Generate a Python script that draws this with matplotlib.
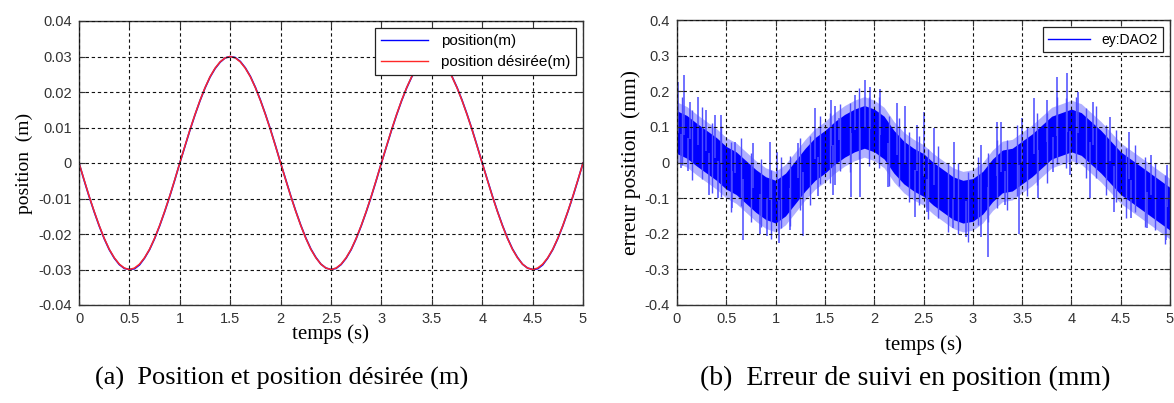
import numpy as np
import matplotlib
matplotlib.use("Agg")
import matplotlib.pyplot as plt

# ---- data ----
# (a) position and desired position (m), sampled every 0.05 s
t_pos = np.round(np.arange(0, 5.001, 0.05), 2)
pos_desired = [
    0.0, -0.0047, -0.0093, -0.0136, -0.0176, -0.0212, -0.0243, -0.0267, -0.0285, -0.0296,
    -0.0300, -0.0296, -0.0285, -0.0267, -0.0243, -0.0212, -0.0176, -0.0136, -0.0093, -0.0047,
    0.0, 0.0047, 0.0093, 0.0136, 0.0176, 0.0212, 0.0243, 0.0267, 0.0285, 0.0296,
    0.0300, 0.0296, 0.0285, 0.0267, 0.0243, 0.0212, 0.0176, 0.0136, 0.0093, 0.0047,
    0.0, -0.0047, -0.0093, -0.0136, -0.0176, -0.0212, -0.0243, -0.0267, -0.0285, -0.0296,
    -0.0300, -0.0296, -0.0285, -0.0267, -0.0243, -0.0212, -0.0176, -0.0136, -0.0093, -0.0047,
    0.0, 0.0047, 0.0093, 0.0136, 0.0176, 0.0212, 0.0243, 0.0267, 0.0285, 0.0296,
    0.0300, 0.0296, 0.0285, 0.0267, 0.0243, 0.0212, 0.0176, 0.0136, 0.0093, 0.0047,
    0.0, -0.0047, -0.0093, -0.0136, -0.0176, -0.0212, -0.0243, -0.0267, -0.0285, -0.0296,
    -0.0300, -0.0296, -0.0285, -0.0267, -0.0243, -0.0212, -0.0176, -0.0136, -0.0093, -0.0047,
    0.0]
pos_real = [
    0.0, -0.0048, -0.0094, -0.0137, -0.0177, -0.0213, -0.0244, -0.0268, -0.0286, -0.0297,
    -0.0300, -0.0298, -0.0287, -0.0268, -0.0244, -0.0213, -0.0177, -0.0137, -0.0094, -0.0048,
    0.0, 0.0046, 0.0092, 0.0135, 0.0175, 0.0211, 0.0242, 0.0266, 0.0284, 0.0296,
    0.0300, 0.0297, 0.0286, 0.0268, 0.0244, 0.0213, 0.0177, 0.0137, 0.0094, 0.0048,
    0.0, -0.0046, -0.0092, -0.0135, -0.0175, -0.0211, -0.0242, -0.0266, -0.0285, -0.0296,
    -0.0300, -0.0297, -0.0286, -0.0268, -0.0244, -0.0213, -0.0177, -0.0137, -0.0094, -0.0048,
    0.0, 0.0046, 0.0092, 0.0135, 0.0175, 0.0211, 0.0242, 0.0266, 0.0284, 0.0296,
    0.0300, 0.0297, 0.0286, 0.0268, 0.0244, 0.0213, 0.0177, 0.0137, 0.0094, 0.0048,
    0.0, -0.0046, -0.0092, -0.0135, -0.0175, -0.0211, -0.0242, -0.0266, -0.0285, -0.0296,
    -0.0300, -0.0298, -0.0287, -0.0268, -0.0244, -0.0213, -0.0177, -0.0137, -0.0094, -0.0048,
    0.0]

# (b) tracking error (mm): trend of the dense band every 0.1 s
t_err = np.round(np.arange(0, 5.001, 0.1), 1)
err_center = [0.085, 0.072, 0.05, 0.03, 0.01, -0.015, -0.03, -0.055, -0.08, -0.10,
              -0.11, -0.09, -0.055, -0.02, 0.01, 0.03, 0.055, 0.075, 0.09, 0.10,
              0.09, 0.07, 0.03, 0.0, -0.02, -0.035, -0.06, -0.08, -0.10, -0.11,
              -0.105, -0.085, -0.05, -0.025, -0.02, 0.0, 0.02, 0.045, 0.07, 0.08,
              0.09, 0.08, 0.055, 0.03, 0.0, -0.03, -0.05, -0.07, -0.09, -0.11,
              -0.13]
band_half = 0.06
fuzz_half = 0.085

# lines crossing the band (ragged edges)
mid_t = [0.05, 0.15, 0.25, 0.35, 0.45, 0.55, 0.65, 0.75, 0.85, 0.95,
         1.05, 1.15, 1.25, 1.35, 1.45, 1.55, 1.65, 1.75, 1.85, 1.95,
         2.05, 2.15, 2.25, 2.35, 2.45, 2.55, 2.65, 2.75, 2.85, 2.95,
         3.05, 3.15, 3.25, 3.35, 3.45, 3.55, 3.65, 3.75, 3.85, 3.95,
         4.05, 4.15, 4.25, 4.35, 4.45, 4.55, 4.65, 4.75, 4.85, 4.95]
mid_top = [0.183, 0.148, 0.155, 0.11, 0.103, 0.058, 0.068, 0.028, 0.01, -0.02,
           0.015, 0.018, 0.068, 0.075, 0.13, 0.138, 0.165, 0.168, 0.21, 0.185,
           0.185, 0.13, 0.125, 0.085, 0.073, 0.038, 0.045, 0.0, 0.0, -0.028,
           0.015, 0.028, 0.063, 0.063, 0.105, 0.10, 0.138, 0.138, 0.185, 0.18,
           0.185, 0.153, 0.158, 0.105, 0.09, 0.04, 0.05, 0.015, 0.0, -0.035]
mid_bot = [-0.008, -0.048, -0.045, -0.085, -0.098, -0.138, -0.123, -0.168, -0.18, -0.215,
           -0.185, -0.178, -0.133, -0.12, -0.06, -0.058, -0.025, -0.028, 0.01, -0.01,
           -0.015, -0.065, -0.065, -0.11, -0.118, -0.158, -0.155, -0.195, -0.20, -0.223,
           -0.175, -0.168, -0.128, -0.133, -0.095, -0.095, -0.063, -0.058, -0.005, -0.015,
           -0.005, -0.043, -0.043, -0.09, -0.11, -0.155, -0.14, -0.18, -0.19, -0.23]

# isolated peaks sticking out of the band
up_t = [0.01, 0.07, 0.13, 0.21, 0.29, 0.39, 0.45, 0.59, 0.77, 0.94, 1.01, 1.23, 1.40, 1.56, 1.60,
        1.64, 1.81, 1.91, 1.96, 2.06, 2.23, 2.31, 2.43, 2.51, 2.61, 2.81, 3.08, 3.25,
        3.29, 3.50, 3.62, 3.75, 3.85, 3.96, 4.07, 4.22, 4.39, 4.58, 4.81, 4.97]
up_v = [0.227, 0.245, 0.17, 0.185, 0.147, 0.133, 0.133, 0.058, 0.055, 0.058, 0.03, 0.055, 0.152, 0.175, 0.16,
        0.125, 0.19, 0.232, 0.213, 0.205, 0.166, 0.16, 0.105, 0.143, 0.097, 0.058, 0.05, 0.115,
        0.115, 0.124, 0.18, 0.175, 0.24, 0.25, 0.199, 0.17, 0.129, 0.086, 0.021, -0.007]
dn_t = [0.04, 0.11, 0.32, 0.42, 0.56, 0.67, 0.84, 0.91, 1.03, 1.15, 1.28, 1.43, 1.58,
        1.60, 1.76, 1.86, 2.14, 2.41, 2.54, 2.80, 2.93, 3.08, 3.15,
        3.33, 3.47, 3.66, 3.81, 3.99, 4.19, 4.43, 4.60, 4.77, 4.96]
dn_v = [-0.016, -0.025, -0.09, -0.10, -0.129, -0.218, -0.20, -0.205, -0.227, -0.19, -0.205, -0.095, -0.09,
        -0.063, -0.096, -0.096, -0.07, -0.152, -0.14, -0.185, -0.208, -0.21, -0.264,
        -0.12, -0.20, -0.10, -0.026, -0.035, -0.10, -0.14, -0.155, -0.185, -0.218]

xticks = np.arange(0, 5.01, 0.5)
xticklabels = ["0", "0.5", "1", "1.5", "2", "2.5", "3", "3.5", "4", "4.5", "5"]
yticks_a = np.round(np.arange(-0.04, 0.041, 0.01), 2)
yticks_b = np.round(np.arange(-0.4, 0.41, 0.1), 1)

tick_font = dict(family="Liberation Sans", size=10.5, color="#333333")
serif = "Liberation Serif"

fig = plt.figure(figsize=(11.74, 4.03), dpi=100)
ax1 = fig.add_axes([79 / 1174, 1 - 305 / 403, 504 / 1174, 284 / 403])
ax2 = fig.add_axes([677 / 1174, 1 - 305 / 403, 493 / 1174, 285 / 403])


def style(ax, yticks, ylabels):
    ax.set_xlim(0, 5)
    ax.set_xticks(xticks)
    ax.set_xticklabels(xticklabels, **tick_font)
    ax.set_yticks(yticks)
    ax.set_yticklabels(ylabels, **tick_font)
    ax.tick_params(direction="in", top=True, right=True, length=4, width=0.8,
                   color="#333333", pad=5)
    ax.grid(True, color="#111111", linestyle=(0, (3, 2.5)), linewidth=0.8)
    for s in ax.spines.values():
        s.set_color("#333333")
        s.set_linewidth(1.0)
    ax.set_axisbelow(False)


# (a)
ax1.plot(t_pos, pos_real, color="#0000ff", lw=1.2, label="position(m)")
ax1.plot(t_pos, pos_desired, color="#ff2828", lw=1.1, label="position désirée(m)")
ax1.set_ylim(-0.04, 0.04)
style(ax1, yticks_a, ["0" if v == 0 else f"{v:.2f}" for v in yticks_a])
ax1.set_xlabel("temps (s)", family=serif, size=15, labelpad=-1)
ax1.set_ylabel("position  (m)", family=serif, size=14, labelpad=4)
leg1 = ax1.legend(loc="upper right", prop=dict(family="Liberation Sans", size=11),
                  fancybox=False, framealpha=1, edgecolor="#222222",
                  borderaxespad=0.45, handlelength=3.1, borderpad=0.4, labelspacing=0.45)
leg1.get_frame().set_linewidth(0.9)
for h in leg1.get_lines():
    h.set_linewidth(1.0)

# (b)
c = np.array(err_center)
ax2.fill_between(t_err, c - fuzz_half, c + fuzz_half, color="#7070ff", alpha=0.55, lw=0)
ax2.vlines(mid_t, mid_bot, mid_top, color="#5050ff", lw=1.0)
ax2.fill_between(t_err, c - band_half, c + band_half, color="#0000ff", lw=0)
ax2.vlines(up_t, np.interp(up_t, t_err, c), up_v, color="#4a4aff", lw=1.1)
ax2.vlines(dn_t, dn_v, np.interp(dn_t, t_err, c), color="#4a4aff", lw=1.1)
ax2.plot([], [], color="#0000ff", lw=1.0, label="ey:DAO2")
ax2.set_ylim(-0.4, 0.4)
style(ax2, yticks_b, ["0" if v == 0 else f"{v:.1f}" for v in yticks_b])
ax2.set_xlabel("temps (s)", family=serif, size=15, labelpad=7)
ax2.set_ylabel("erreur position  (mm)", family=serif, size=15.5, labelpad=3)
leg2 = ax2.legend(loc="upper right", prop=dict(family="Liberation Sans", size=10),
                  fancybox=False, framealpha=1, edgecolor="#222222",
                  borderaxespad=0.5, handlelength=3.0, borderpad=0.4)
leg2.get_frame().set_linewidth(0.9)

fig.text(282 / 1174, 1 - 378 / 403, "(a)  Position et position désirée (m)",
         family=serif, size=19, ha="center", va="center")
fig.text(905 / 1174, 1 - 378 / 403, "(b)  Erreur de suivi en position (mm)",
         family=serif, size=20, ha="center", va="center")

fig.savefig("out.png", dpi=100)
